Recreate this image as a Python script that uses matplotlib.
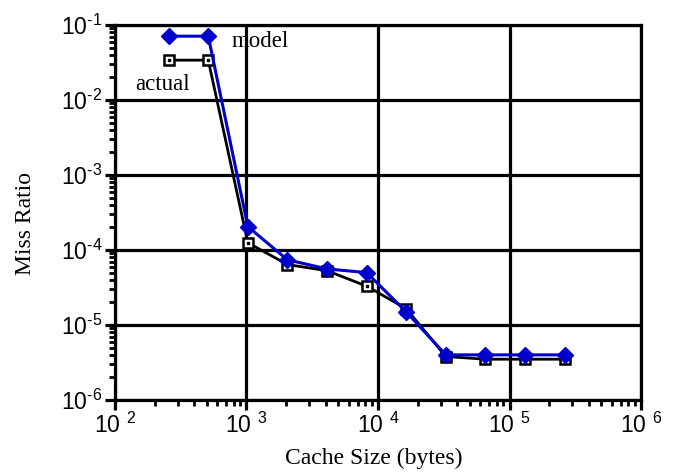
import math
import matplotlib
matplotlib.use('Agg')
import matplotlib.pyplot as plt
from matplotlib.ticker import FuncFormatter, LogLocator, NullFormatter

# cache sizes in bytes
cache_size = [256, 512, 1024, 2048, 4096, 8192, 16384, 32768, 65536, 131072, 262144]
model = [0.071, 0.071, 2.05e-4, 7.4e-5, 5.6e-5, 5.0e-5, 1.5e-5, 4.0e-6, 4.0e-6, 4.0e-6, 4.0e-6]
actual = [0.034, 0.034, 1.25e-4, 6.4e-5, 5.3e-5, 3.3e-5, 1.65e-5, 3.8e-6, 3.5e-6, 3.5e-6, 3.5e-6]

plt.rcParams['font.family'] = 'Liberation Sans'
plt.rcParams['mathtext.fontset'] = 'custom'
plt.rcParams['mathtext.rm'] = 'Liberation Sans'
plt.rcParams['mathtext.it'] = 'Liberation Sans'

fig = plt.figure(figsize=(6.82, 4.73), dpi=100)
ax = fig.add_axes([0.1686, 0.1543, 0.7713, 0.7928])

ax.plot(cache_size, actual, color='black', lw=2.0, marker='s', ms=7,
        mfc='white', mec='black', mew=1.8, zorder=3)
ax.plot(cache_size, actual, ls='none', marker='s', ms=1.5, color='black', zorder=3)
ax.plot(cache_size, model, color='#0000cc', lw=2.2, marker='D', ms=8,
        mfc='#0000cc', mec='#0000cc', zorder=4)

ax.set_xscale('log')
ax.set_yscale('log')
ax.set_xlim(1e2, 1e6)
ax.set_ylim(1e-6, 1e-1)

ax.grid(True, which='major', color='black', lw=2.3)
ax.set_axisbelow(True)
for s in ax.spines.values():
    s.set_linewidth(2.3)

ax.xaxis.set_minor_locator(LogLocator(base=10, subs=range(2, 10)))
ax.yaxis.set_minor_locator(LogLocator(base=10, subs=range(2, 10)))
ax.xaxis.set_minor_formatter(NullFormatter())
ax.yaxis.set_minor_formatter(NullFormatter())
ax.tick_params(which='major', direction='out', length=7, width=2.3, labelsize=16.5, pad=2)
ax.tick_params(which='minor', direction='out', length=4, width=2.0)
ax.tick_params(top=False, right=False, which='both')

def xfmt(v, pos):
    e = int(round(math.log10(v)))
    return r'$\mathregular{10\ ^{%d}}$' % e

def yfmt(v, pos):
    e = int(round(math.log10(v)))
    return r'$\mathregular{10^{\text{-}%d}}$' % (-e)

ax.xaxis.set_major_formatter(FuncFormatter(xfmt))
ax.yaxis.set_major_formatter(FuncFormatter(yfmt))

serif = 'Liberation Serif'
ax.text(0.491, -0.171, 'Cache Size (bytes)', transform=ax.transAxes, family=serif,
        fontsize=17, ha='center', va='baseline')
ax.text(-0.171, 0.47, 'Miss Ratio', transform=ax.transAxes, family=serif,
        fontsize=17, rotation=90, ha='center', va='center')

ax.text(0.2224, 0.941, 'model', transform=ax.transAxes, family=serif, fontsize=16.5,
        va='baseline')
ax.text(0.038, 0.827, 'actual', transform=ax.transAxes, family=serif, fontsize=16.5,
        va='baseline')

fig.savefig('out.png', dpi=100)
